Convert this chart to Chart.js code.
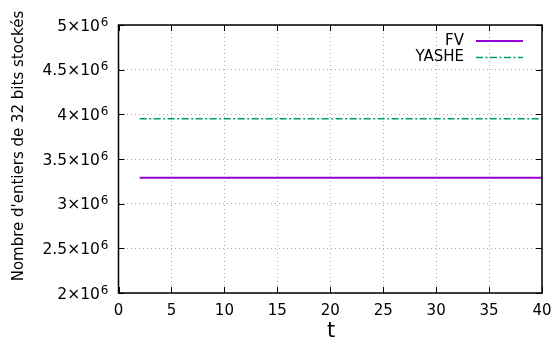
<!DOCTYPE html>
<html>
<head>
<meta charset="utf-8">
<script src="https://cdn.jsdelivr.net/npm/chart.js@4/dist/chart.umd.min.js"></script>
<style>
  html, body { margin: 0; padding: 0; background: #fff; }
  #wrap { width: 556px; height: 345px; }
</style>
</head>
<body>
<div id="wrap"><canvas id="chart" width="556" height="345"></canvas></div>
<script>
const tValues = [2, 40];
const fvValues = [3.29e6, 3.29e6];
const yasheValues = [3.951e6, 3.951e6];
const seriesNames = ['FV', 'YASHE'];
const yTitle = "Nombre d'entiers de 32 bits stockés";
const xTitle = 't';

const FONT = 'DejaVu Sans';

function toPoints(xs, ys) {
  return xs.map((x, i) => ({ x: x, y: ys[i] }));
}

// frame, inward ticks on all four sides, y labels with exponent, legend and titles
const gnuplotFrame = {
  id: 'gnuplotFrame',
  afterDraw(chart) {
    const ctx = chart.ctx;
    const area = chart.chartArea;
    const xs = chart.scales.x;
    const ys = chart.scales.y;
    const tick = 6;

    ctx.save();
    ctx.strokeStyle = '#000';
    ctx.lineWidth = 1;
    ctx.beginPath();
    xs.ticks.forEach(t => {
      const px = Math.round(xs.getPixelForValue(t.value)) + 0.5;
      ctx.moveTo(px, area.bottom); ctx.lineTo(px, area.bottom - tick);
      ctx.moveTo(px, area.top); ctx.lineTo(px, area.top + tick);
    });
    ys.ticks.forEach(t => {
      const py = Math.round(ys.getPixelForValue(t.value)) + 0.5;
      ctx.moveTo(area.left, py); ctx.lineTo(area.left + tick, py);
      ctx.moveTo(area.right, py); ctx.lineTo(area.right - tick, py);
    });
    ctx.stroke();

    ctx.lineWidth = 1.5;
    ctx.strokeRect(area.left, area.top, area.right - area.left, area.bottom - area.top);

    // y tick labels as m×10^6
    ctx.fillStyle = '#000';
    ctx.textBaseline = 'alphabetic';
    ys.ticks.forEach(t => {
      const py = ys.getPixelForValue(t.value);
      const base = py + 5.5;
      const right = area.left - 10;
      ctx.font = '12px "' + FONT + '"';
      ctx.textAlign = 'right';
      ctx.fillText('6', right, base - 5);
      const expW = ctx.measureText('6').width;
      ctx.font = '15.5px "' + FONT + '"';
      ctx.fillText((t.value / 1e6) + '×10', right - expW - 1, base);
    });

    // legend
    ctx.font = '15px "' + FONT + '"';
    ctx.textAlign = 'right';
    ctx.textBaseline = 'middle';
    chart.data.datasets.forEach((ds, i) => {
      const y = 41 + i * 16.5;
      ctx.fillStyle = '#000';
      ctx.fillText(ds.label, 464, y);
      ctx.strokeStyle = ds.borderColor;
      ctx.lineWidth = ds.borderWidth;
      ctx.setLineDash(ds.borderDash || []);
      ctx.beginPath();
      ctx.moveTo(476, y);
      ctx.lineTo(523, y);
      ctx.stroke();
      ctx.setLineDash([]);
    });

    // axis titles
    ctx.fillStyle = '#000';
    ctx.textAlign = 'center';
    ctx.textBaseline = 'middle';
    ctx.font = '15px "' + FONT + '"';
    ctx.save();
    ctx.translate(19, 146);
    ctx.rotate(-Math.PI / 2);
    ctx.fillText(yTitle, 0, 0);
    ctx.restore();
    ctx.font = '21px "' + FONT + '"';
    ctx.fillText(xTitle, 331, 332);
    ctx.restore();
  }
};

new Chart(document.getElementById('chart'), {
  type: 'line',
  data: {
    datasets: [
      {
        label: seriesNames[0],
        data: toPoints(tValues, fvValues),
        borderColor: '#9400d3',
        borderWidth: 2,
        pointRadius: 0,
        fill: false
      },
      {
        label: seriesNames[1],
        data: toPoints(tValues, yasheValues),
        borderColor: '#009e73',
        borderWidth: 1.5,
        borderDash: [7, 2.5, 2, 2.5],
        pointRadius: 0,
        fill: false
      }
    ]
  },
  options: {
    responsive: false,
    animation: false,
    layout: { padding: { left: 0, right: 14, top: 25, bottom: 0 } },
    plugins: { legend: { display: false }, tooltip: { enabled: false } },
    scales: {
      x: {
        type: 'linear',
        min: 0,
        max: 40,
        afterFit: s => {
          s.height = 52;
          s.paddingLeft = 0;
          s.paddingRight = 0;
        },
        border: { display: false, dash: [1, 3] },
        grid: { color: '#aaa', lineWidth: 1, drawTicks: false },
        ticks: {
          stepSize: 5,
          padding: 9,
          color: '#000',
          font: { family: FONT, size: 15 }
        }
      },
      y: {
        min: 2e6,
        max: 5e6,
        afterFit: s => { s.width = 118.5; },
        border: { display: false, dash: [1, 3] },
        grid: { color: '#aaa', lineWidth: 1, drawTicks: false },
        ticks: {
          stepSize: 5e5,
          display: false
        }
      }
    }
  },
  plugins: [gnuplotFrame]
});
</script>
</body>
</html>
